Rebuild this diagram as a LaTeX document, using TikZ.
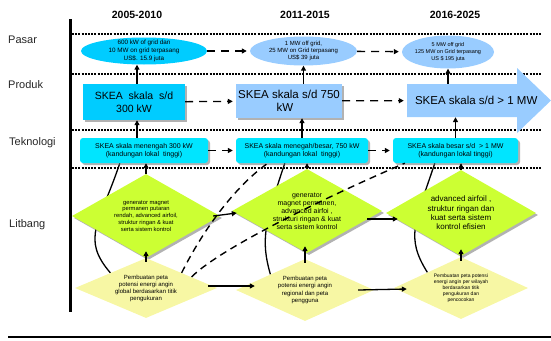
\documentclass[tikz,border=0pt]{standalone}
\usepackage{fontspec}
\setmainfont{Liberation Sans}
\usetikzlibrary{shapes.geometric,shadows,arrows.meta,backgrounds}
\definecolor{birumuda}{HTML}{99CCFF}
\definecolor{birutua}{HTML}{00CCFF}
\definecolor{sian}{HTML}{00E5FF}
\definecolor{hijau}{HTML}{CCFF33}
\definecolor{kuning}{HTML}{F7F7A4}
\newcommand{\ukuran}[2]{\fontsize{#1}{#2}\selectfont}

\begin{document}
\begin{tikzpicture}
  [x=1pt,y=-1pt,
   every node/.style={align=center,inner sep=0pt},
   tahun/.style={font=\bfseries\ukuran{10.5}{12}},
   baris/.style={anchor=west,font=\ukuran{11}{13},text=black!85},
   bayang/.style={drop shadow={shadow xshift=2pt,shadow yshift=-2pt,fill=black!60}},
   pasar/.style={ellipse,fill=birumuda,inner sep=-3pt},
   produk/.style={rectangle,fill=birumuda,bayang},
   tekno/.style={rectangle,rounded corners=3pt,fill=sian,bayang,font=\ukuran{7}{8.3},
     minimum height=25pt},
   litA/.style={diamond,shape aspect=1.8,fill=hijau,bayang},
   litB/.style={diamond,shape aspect=2.2,fill=kuning},
   garis/.style={line width=2.2pt,dash pattern=on 2pt off 1.2pt},
   panah/.style={line width=1.3pt,-{Triangle[length=5pt,width=5pt]}},
   putus/.style={panah,dash pattern=on 8pt off 6pt,shorten >=3pt},
   garisputus/.style={line width=1.4pt,dash pattern=on 7pt off 5pt},
   lengkung/.style={line width=1.3pt}]
  \useasboundingbox (0,0) rectangle (551,340);

  % judul kolom dan baris
  \node[tahun] (h1) at (137,15) {2005-2010};
  \node[tahun] (h2) at (305,15) {2011-2015};
  \node[tahun] (h3) at (455,15) {2016-2025};
  \node[baris] (b1) at (8,40) {Pasar};
  \node[baris] (b2) at (8,85) {Produk};
  \node[baris] (b3) at (9,143) {Teknologi};
  \node[baris] (b4) at (9,225) {Litbang};

  % garis batas
  \draw[line width=3pt] (70,19) -- (70,312);
  \draw[line width=2pt] (8,337) -- (551,337);
  \foreach \y in {34,74,130,168}
    \draw[garis] (72,\y) -- (541,\y);

  % pasar
  \node[pasar,fill=birutua,minimum width=126pt,minimum height=27pt,font=\ukuran{6.3}{7.7}] (e1) at (144,51)
    {600 kW of grid dan\\10 MW on grid terpasang\\US\$. 15.9 juta};
  \node[pasar,minimum width=107pt,minimum height=29pt,font=\ukuran{6}{7.3}] (e2) at (303.5,51)
    {1 MW off grid,\\25 MW on Grid terpasang\\US\$ 39 juta};
  \node[pasar,minimum width=92pt,minimum height=33pt,font=\ukuran{5.5}{7}] (e3) at (448,52)
    {5 MW off grid\\125 MW on Grid terpasang\\US \$ 195 juta};

  % produk
  \node[produk,fill=birutua,minimum width=102pt,minimum height=36pt,font=\ukuran{10.5}{12.5}] (p1) at (134,102)
    {SKEA\ \ skala\ \ s/d\\300 kW};
  \node[produk,minimum width=106pt,minimum height=34pt,font=\ukuran{11.5}{13}] (p2) at (289,101)
    {SKEA skala s/d 750\\kW\hspace*{8pt}};
  \fill[birumuda] (407,84) -- (517,84) -- (517,68) -- (551,100.5) -- (517,133) -- (517,117) -- (407,117) -- cycle;
  \node[minimum width=110pt,minimum height=33pt,font=\ukuran{11.5}{13}] (p3) at (462,100.5)
    {\makebox[94pt][l]{SKEA skala s/d > 1 MW}};

  % teknologi
  \node[tekno,minimum width=128pt] (t1) at (144,150.5)
    {SKEA skala menengah 300 kW\\(kandungan lokal\ \ tinggi)};
  \node[tekno,minimum width=132pt] (t2) at (302,150.5)
    {SKEA skala menegah/besar, 750 kW\\(kandungan lokal\ \ tinggi)};
  \node[tekno,minimum width=125pt] (t3) at (455.5,150.5)
    {SKEA skala besar s/d\ \ > 1 MW\\(kandungan lokal tinggi)};

  % litbang
  \node[litA,minimum width=148pt,minimum height=84pt,font=\ukuran{5.8}{6.9}] (g1) at (146,216)
    {generator magnet\\permanen putaran\\rendah, advanced airfoil,\\struktur ringan \& kuat\\serta sistem kontrol};
  \node[litA,minimum width=150pt,minimum height=84pt,font=\ukuran{7}{8.1}] (g2) at (307,211)
    {generator\\magnet permanen,\\advanced airfoi ,\\strukturi ringan \& kuat\\serta sistem kontrol};
  \node[litA,minimum width=150pt,minimum height=86pt,font=\ukuran{8}{9.3}] (g3) at (461,213)
    {advanced airfoil ,\\struktur ringan dan\\kuat serta sistem\\kontrol efisien};
  \node[litB,minimum width=142pt,minimum height=60pt,font=\ukuran{6}{7}] (k1) at (146,288)
    {Pembuatan peta\\potensi energi angin\\global berdasarkan titik\\pengukuran};
  \node[litB,minimum width=138pt,minimum height=62pt,font=\ukuran{6}{7.3}] (k2) at (305,290)
    {Pembuatan peta\\potensi energi angin\\regional dan peta\\pengguna};
  \node[litB,minimum width=134pt,minimum height=62pt,font=\ukuran{5}{6}] (k3) at (461,288)
    {Pembuatan peta potensi\\energi angin per wilayah\\berdasarkan titik\\pengukuran dan\\pencocokan};

  \begin{scope}[on background layer]
    \foreach \n/\dx/\ax in {1/40/30,2/49/10,3/42/22}
      \draw[lengkung] (k\n.north west) .. controls +(-\ax,-35) and +(-20,60) .. ([xshift=\dx pt]t\n.south west);
  \end{scope}

  \foreach \from/\to in {e1/e2,e2/e3,p1/p2,p2/p3,t1/t2,t2/t3}
    \draw[putus] (\from) -- (\to);

  \draw[panah] ([xshift=3pt]p1.north) -- ([xshift=3pt]p1.north |- e1.south);
  \draw[panah] (e2.south |- p2.north) -- (e2.south);
  \draw[panah] (e3.south |- p3.north) -- (e3.south);
  \draw[panah] ([xshift=3pt]p1.south |- t1.north) -- ([xshift=3pt]p1.south);
  \draw[panah] (t2.north) -- (t2.north |- p2.south);
  \draw[panah] (t3.north) -- (t3.north |- p3.south);
  \foreach \n in {1,2,3}{
    \draw[panah] (g\n.north) -- (g\n.north |- t\n.south);
    \draw[panah] ([yshift=-4pt]k\n.north) -- ([yshift=7pt]k\n.north |- g\n.south);
  }

  \draw[panah] ([xshift=-7pt]g1.east) -- ([xshift=5pt,yshift=-2pt]g2.west);
  \draw[panah] ([xshift=-15pt,yshift=-8pt]g2.east) -- ([xshift=12pt,yshift=-6pt]g3.west);
  \draw[panah] ([xshift=-9pt,yshift=2pt]k1.east) -- ([xshift=19pt,yshift=4pt]k2.west);
  \draw[panah] ([xshift=-16pt]k2.east) -- ([xshift=13pt,yshift=-1pt]k3.west);

  \draw[garisputus] (k1.north east) .. controls +(20,-40) and +(-35,25) .. ([xshift=32pt]t2.south west);
  \draw[garisputus] ([xshift=10pt,yshift=-4pt]k1.north east) .. controls +(30,-30) and +(-70,30) .. ([xshift=12pt]t3.south west);
\end{tikzpicture}
\end{document}
